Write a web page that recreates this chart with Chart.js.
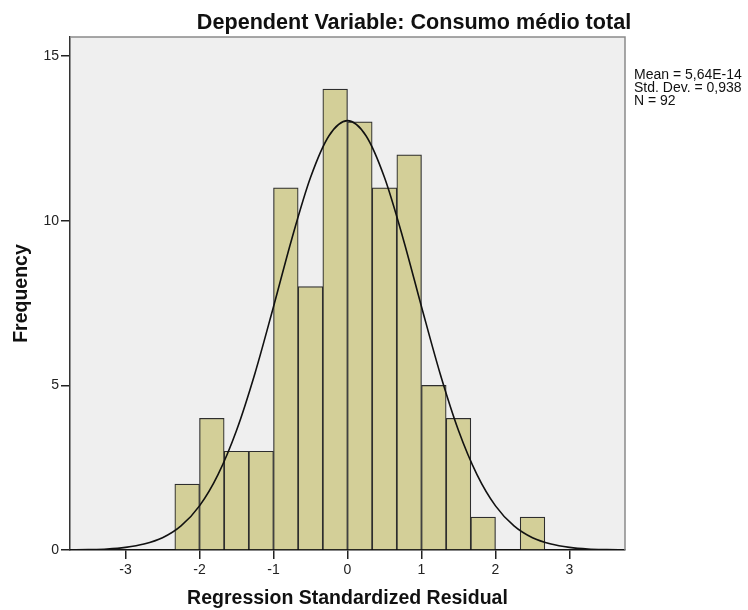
<!DOCTYPE html>
<html lang="pt">
<head>
  <meta charset="UTF-8">
  <title>Histogram - Regression Standardized Residual</title>
  <script src="https://cdn.jsdelivr.net/npm/chart.js"></script>
  <style>
    body { margin: 0; background: #ffffff; }
    #wrap { width: 748px; height: 610px; position: relative; }
  </style>
</head>
<body>
  <div id="wrap"><canvas id="hist"></canvas></div>

  <script>
    // histogram bins (centres of bins, width 1/3)
    const binCentres = [-2.1667, -1.8333, -1.5, -1.1667, -0.8333, -0.5, -0.1667,
                        0.1667, 0.5, 0.8333, 1.1667, 1.5, 1.8333, 2.1667, 2.5];
    const frequencies = [2, 4, 3, 3, 11, 8, 14, 13, 11, 12, 5, 4, 1, 0, 1];

    // normal curve
    const curveX = [-3.75, -3.5, -3.25, -3, -2.75, -2.5, -2.25, -2, -1.75, -1.5, -1.25, -1,
                    -0.75, -0.5, -0.25, 0, 0.25, 0.5, 0.75, 1, 1.25, 1.5, 1.75, 2,
                    2.25, 2.5, 2.75, 3, 3.25, 3.5, 3.75];
    const curveY = [0.004, 0.012, 0.03, 0.08, 0.18, 0.37, 0.73, 1.34, 2.29, 3.63, 5.37, 7.39,
                    9.47, 11.31, 12.58, 13.04, 12.58, 11.31, 9.47, 7.39, 5.37, 3.63, 2.29, 1.34,
                    0.73, 0.37, 0.18, 0.08, 0.03, 0.012, 0.004];

    const xTicks = [-3, -2, -1, 0, 1, 2, 3];
    const yTicks = [0, 5, 10, 15];

    const titleText = 'Dependent Variable: Consumo médio total';
    const statsLines = ['Mean = 5,64E-14', 'Std. Dev. = 0,938', 'N = 92'];

    const spssFrame = {
      id: 'spssFrame',
      beforeDraw(chart) {
        const { ctx, chartArea: a } = chart;
        ctx.save();
        ctx.fillStyle = '#efefef';
        ctx.fillRect(a.left, a.top, a.right - a.left, a.bottom - a.top);
        ctx.restore();
      },
      afterDraw(chart) {
        const { ctx, chartArea: a } = chart;
        ctx.save();
        ctx.strokeStyle = '#8a8a8a';
        ctx.lineWidth = 1.5;
        ctx.beginPath();
        ctx.moveTo(a.left, a.top);
        ctx.lineTo(a.right, a.top);
        ctx.lineTo(a.right, a.bottom);
        ctx.stroke();

        ctx.fillStyle = '#111';
        ctx.font = 'bold 21.6px "Liberation Sans", Arial, sans-serif';
        ctx.textAlign = 'center';
        ctx.textBaseline = 'alphabetic';
        ctx.fillText(titleText, 414, 29);

        ctx.font = '14px "Liberation Sans", Arial, sans-serif';
        ctx.textAlign = 'left';
        statsLines.forEach((t, i) => ctx.fillText(t, 634, 79 + i * 13));
        ctx.restore();
      }
    };

    const ctx = document.getElementById('hist').getContext('2d');
    new Chart(ctx, {
      type: 'bar',
      data: {
        datasets: [
          {
            type: 'line',
            data: curveX.map((x, i) => ({ x: x, y: curveY[i] })),
            borderColor: '#111',
            borderWidth: 1.6,
            pointRadius: 0,
            fill: false,
            cubicInterpolationMode: 'monotone',
            order: 0
          },
          {
            type: 'bar',
            data: binCentres.map((x, i) => ({ x: x, y: frequencies[i] })),
            backgroundColor: '#d3cf98',
            borderColor: '#2e2e2e',
            borderWidth: 1.2,
            barPercentage: 1,
            categoryPercentage: 1,
            grouped: false,
            order: 1
          }
        ]
      },
      options: {
        responsive: true,
        maintainAspectRatio: false,
        animation: false,
        layout: { padding: { top: 37, right: 123, left: 0, bottom: 0 } },
        plugins: {
          legend: { display: false },
          tooltip: { enabled: false }
        },
        scales: {
          x: {
            type: 'linear',
            min: -3.75,
            max: 3.75,
            offset: false,
            afterFit: (s) => { s.height = 60; },
            afterBuildTicks: (s) => { s.ticks = xTicks.map(v => ({ value: v })); },
            ticks: {
              color: '#222',
              font: { family: '"Liberation Sans", Arial, sans-serif', size: 14 },
              padding: 3,
              maxRotation: 0
            },
            grid: { offset: false, drawOnChartArea: false, drawTicks: true, tickLength: 9, tickColor: '#222', lineWidth: 1.5 },
            border: { color: '#111', width: 1.5 },
            title: {
              display: true,
              text: 'Regression Standardized Residual',
              color: '#111',
              font: { family: '"Liberation Sans", Arial, sans-serif', size: 19.5, weight: 'bold' },
              padding: { top: 0, bottom: 0 }
            }
          },
          y: {
            min: 0,
            max: 15.58,
            afterFit: (s) => { s.width = 70; },
            afterBuildTicks: (s) => { s.ticks = yTicks.map(v => ({ value: v })); },
            ticks: {
              color: '#222',
              font: { family: '"Liberation Sans", Arial, sans-serif', size: 14 },
              padding: 2
            },
            grid: { drawOnChartArea: false, drawTicks: true, tickLength: 9, tickColor: '#222', lineWidth: 1.5 },
            border: { color: '#333', width: 1.5 },
            title: {
              display: true,
              text: 'Frequency',
              color: '#111',
              font: { family: '"Liberation Sans", Arial, sans-serif', size: 19.5, weight: 'bold' },
              padding: { top: 10, bottom: 0 }
            }
          }
        }
      },
      plugins: [spssFrame]
    });
  </script>
</body>
</html>
